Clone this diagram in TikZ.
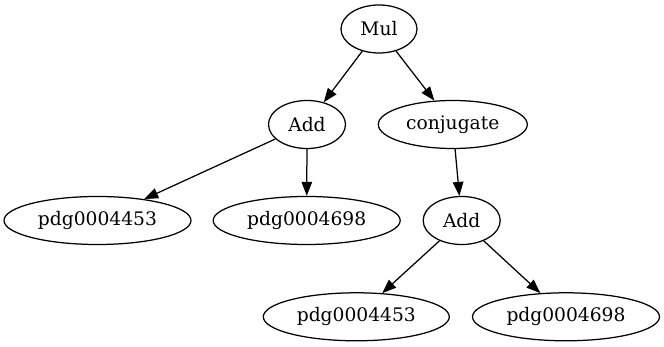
\documentclass[tikz,border=0pt]{standalone}
\usepackage{fontspec}
\setmainfont{DejaVu Serif}
\usetikzlibrary{arrows.meta,shapes.geometric}
\tikzset{>={Triangle[length=14pt,width=10.5pt]},every node/.style={font=\fontsize{18.67}{22}\selectfont},op/.style={draw,ellipse,line width=1.25pt,inner sep=0pt,minimum height=48},flow/.style={line width=1.25pt,->}}

\begin{document}
\begin{tikzpicture}[x=1pt,y=1pt]
\useasboundingbox (0,0) rectangle (664,347);
\node[op,minimum width=76] (mul) at (379,318) {Mul};
\node[op,minimum width=77] (add) at (307,222.5) {Add};
\node[op,minimum width=149] (conj) at (452.8,222.5) {conjugate};
\node[op,minimum width=187] (pdga) at (97.5,126.5) {pdg0004453};
\node[op,minimum width=187] (pdgb) at (306.7,126.5) {pdg0004698};
\node[op,minimum width=77] (addb) at (461.7,126.5) {Add};
\node[op,minimum width=186] (pdgc) at (356.3,30.2) {pdg0004453};
\node[op,minimum width=187] (pdgd) at (566,30.2) {pdg0004698};
\draw[flow] (mul)--(add);\draw[flow] (mul)--(conj);
\draw[flow] (add)--(pdga);\draw[flow] (add)--(pdgb);
\draw[flow] (conj)--(addb);
\draw[flow] (addb)--(pdgc);\draw[flow] (addb)--(pdgd);
\end{tikzpicture}
\end{document}
